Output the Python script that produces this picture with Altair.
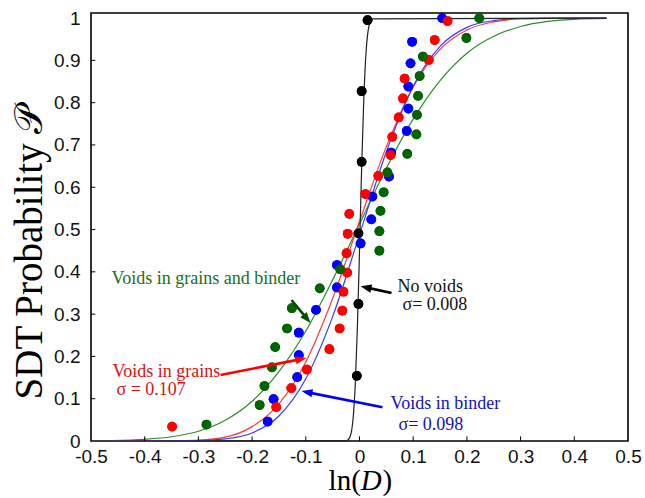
import math
import altair as alt
import pandas as pd

# ---------------- data ----------------
black_x = [-0.005, -0.002, -0.002, 0.004, 0.004, 0.015]
black_y = [0.154, 0.324, 0.491, 0.660, 0.827, 0.995]

blue_x = [-0.171, -0.160, -0.116, -0.113, -0.113, -0.081, -0.042, -0.042, 0.002, 0.022,
          0.024, 0.055, 0.059, 0.088, 0.091, 0.091, 0.095, 0.098, 0.154]
blue_y = [0.046, 0.099, 0.151, 0.203, 0.256, 0.310, 0.363, 0.416, 0.467, 0.524,
          0.578, 0.625, 0.682, 0.733, 0.786, 0.838, 0.893, 0.944, 1.000]

red_x = [-0.349, -0.155, -0.127, -0.098, -0.056, -0.037, -0.032, -0.030, -0.023, -0.024, -0.022,
         -0.019, 0.011, 0.035, 0.058, 0.061, 0.073, 0.081, 0.084, 0.129, 0.140, 0.164]
red_y = [0.034, 0.080, 0.125, 0.169, 0.217, 0.266, 0.308, 0.353, 0.398, 0.444, 0.490,
         0.537, 0.584, 0.627, 0.676, 0.719, 0.765, 0.810, 0.857, 0.901, 0.948, 0.993]

green_x = [-0.285, -0.186, -0.177, -0.163, -0.157, -0.135, -0.126, -0.074, -0.036, 0.037, 0.037,
           0.039, 0.045, 0.052, 0.089, 0.106, 0.107, 0.109, 0.112, 0.118, 0.199, 0.223]
green_y = [0.039, 0.085, 0.130, 0.174, 0.222, 0.266, 0.314, 0.361, 0.406, 0.450, 0.496,
           0.544, 0.588, 0.635, 0.679, 0.725, 0.771, 0.816, 0.863, 0.909, 0.953, 1.000]

# fitted curves, values
curve_x = [-0.46, -0.40, -0.35, -0.30, -0.25, -0.20, -0.15, -0.10, -0.05, 0.0,
           0.05, 0.10, 0.15, 0.20, 0.25, 0.30, 0.35, 0.40, 0.46]
green_curve = [0.001, 0.004, 0.010, 0.023, 0.049, 0.094, 0.164, 0.260, 0.381, 0.513,
               0.645, 0.761, 0.852, 0.917, 0.957, 0.980, 0.992, 0.997, 0.999]
red_curve = [0.0, 0.0001, 0.0006, 0.002, 0.009, 0.034, 0.088, 0.187, 0.337, 0.519,
             0.696, 0.837, 0.926, 0.972, 0.991, 0.998, 0.999, 1.0, 1.0]
blue_curve = [0.0, 0.0, 0.0002, 0.001, 0.005, 0.019, 0.059, 0.147, 0.294, 0.488,
              0.684, 0.839, 0.933, 0.978, 0.994, 0.999, 1.0, 1.0, 1.0]
black_curve_x = [-0.46, -0.024, -0.018, -0.012, -0.008, -0.004, 0.0, 0.004, 0.008, 0.012,
                 0.018, 0.024, 0.46]
black_curve = [0.0, 0.001, 0.009, 0.052, 0.130, 0.266, 0.450, 0.646, 0.809, 0.915,
               0.983, 0.998, 1.0]

# annotations (data coordinates)
ann_series = ["green", "red", "black", "blue"]
arrow_start_x = [-0.1266, -0.2588, 0.0596, 0.0428]
arrow_start_y = [0.333, 0.156, 0.350, 0.080]
arrow_tip_x = [-0.0912, -0.0987, 0.0019, -0.108]
arrow_tip_y = [0.279, 0.196, 0.366, 0.118]

label_text = ["Voids in grains and binder", "Voids in grains", "σ = 0.107",
              "No voids", "σ= 0.008", "Voids in binder", "σ= 0.098"]
label_series = ["green", "red", "red", "black", "black", "blue", "blue"]
label_x = [-0.4618, -0.460, -0.4525, 0.0708, 0.080, 0.0577, 0.0726]
label_y = [0.383, 0.164, 0.1206, 0.364, 0.3215, 0.0875, 0.0378]

x_ticks = [-0.5, -0.4, -0.3, -0.2, -0.1, 0.0, 0.1, 0.2, 0.3, 0.4, 0.5]
y_ticks = [0.0, 0.1, 0.2, 0.3, 0.4, 0.5, 0.6, 0.7, 0.8, 0.9, 1.0]

# ---------------- styles ----------------
POINT_COL = {"black": "#000000", "blue": "#0000ff", "red": "#ff0000", "green": "#006400"}
LINE_COL = {"black": "#222222", "blue": "#3a3aff", "red": "#ff3a3a", "green": "#2e8b2e"}
TEXT_COL = {"black": "#111111", "blue": "#1010c0", "red": "#e01010", "green": "#1a6e1a"}
ARROW_COL = {"black": "#000000", "blue": "#0000ff", "red": "#ff0000", "green": "#004d00"}

W, H = 537, 428
YMAX = 1.012
PX_X = W / 1.0
PX_Y = H / YMAX

# ---------------- tables ----------------
pts = pd.concat([
    pd.DataFrame({"x": black_x, "y": black_y, "s": "black"}),
    pd.DataFrame({"x": blue_x, "y": blue_y, "s": "blue"}),
    pd.DataFrame({"x": red_x, "y": red_y, "s": "red"}),
    pd.DataFrame({"x": green_x, "y": green_y, "s": "green"}),
], ignore_index=True)
pts["col"] = pts["s"].map(POINT_COL)

curves = pd.concat([
    pd.DataFrame({"x": curve_x, "y": green_curve, "s": "green"}),
    pd.DataFrame({"x": curve_x, "y": red_curve, "s": "red"}),
    pd.DataFrame({"x": curve_x, "y": blue_curve, "s": "blue"}),
    pd.DataFrame({"x": black_curve_x, "y": black_curve, "s": "black"}),
], ignore_index=True)
curves["col"] = curves["s"].map(LINE_COL)
curves["order"] = range(len(curves))

arrows = pd.DataFrame({"s": ann_series, "sx": arrow_start_x, "sy": arrow_start_y,
                       "x": arrow_tip_x, "y": arrow_tip_y})
HEAD = 11.0
angs, ex, ey = [], [], []
for _, r in arrows.iterrows():
    dx = (r.x - r.sx) * PX_X
    dy = -(r.y - r.sy) * PX_Y
    a = math.degrees(math.atan2(dx, -dy)) % 360
    angs.append(a)
    L = math.hypot(dx, dy)
    k = (L - HEAD * 0.6) / L
    ex.append(r.sx + (r.x - r.sx) * k)
    ey.append(r.sy + (r.y - r.sy) * k)
arrows["ang"] = angs
arrows["ex"] = ex
arrows["ey"] = ey
arrows["col"] = arrows["s"].map(ARROW_COL)

labels = pd.DataFrame({"x": label_x, "y": label_y, "t": label_text, "s": label_series})
labels["col"] = labels["s"].map(TEXT_COL)

xt = pd.DataFrame({"x": x_ticks[1:-1]})
yt = pd.DataFrame({"y": y_ticks[1:-1]})

# ---------------- encodings ----------------
lab_expr = "datum.value < 0 ? '-' + format(-datum.value, '.1~f') : format(datum.value, '.1~f')"
xs = alt.Scale(domain=[-0.5, 0.5], nice=False, zero=False)
ys = alt.Scale(domain=[0, YMAX], nice=False, zero=False)
X = alt.X("x:Q", scale=xs, axis=alt.Axis(
    values=x_ticks, labelExpr=lab_expr, title=None, grid=False, ticks=False, domain=False,
    labelFont="Liberation Sans", labelFontSize=19, labelColor="#111111", labelPadding=6,
    labelFlush=False, labelOverlap=False))
Y = alt.Y("y:Q", scale=ys, axis=alt.Axis(
    values=y_ticks, labelExpr=lab_expr, grid=False, ticks=False, domain=False,
    labelFont="Liberation Sans", labelFontSize=19, labelColor="#111111", labelPadding=11,
    labelFlush=False, labelOverlap=False,
    title="SDT Probability 𝒫", titleFont="Liberation Serif", titleFontSize=39,
    titleFontWeight="normal", titleColor="#000000", titleX=-62, titleY=239,
    titleAlign="center", titleBaseline="middle", titleAngle=270))

base_pts = alt.Chart(pts).mark_circle(size=95, opacity=1).encode(
    x=X, y=Y, color=alt.Color("col:N", scale=None))

lines = alt.Chart(curves).mark_line(strokeWidth=1.2, interpolate="monotone").encode(
    x="x:Q", y="y:Q", color=alt.Color("col:N", scale=None), detail="s:N", order="order:Q")

shafts = alt.Chart(arrows).mark_rule(strokeWidth=2.6).encode(
    x="sx:Q", y="sy:Q", x2="ex:Q", y2="ey:Q", color=alt.Color("col:N", scale=None))

heads = alt.Chart(arrows).mark_point(
    shape="M0,0L0.38,1L-0.38,1Z", filled=True, opacity=1, size=HEAD * HEAD * 4, strokeWidth=0
).encode(x="x:Q", y="y:Q", angle=alt.Angle("ang:Q", scale=None),
         color=alt.Color("col:N", scale=None))

texts = alt.Chart(labels).mark_text(
    align="left", baseline="middle", font="Liberation Serif", fontSize=18
).encode(x="x:Q", y="y:Q", text="t:N", color=alt.Color("col:N", scale=None))

xtick_marks = alt.Chart(xt).mark_rule(color="#000000", strokeWidth=1).encode(
    x="x:Q", y=alt.datum(0), y2=alt.datum(0.011))
ytick_marks = alt.Chart(yt).mark_rule(color="#000000", strokeWidth=1).encode(
    y="y:Q", x=alt.datum(-0.5), x2=alt.datum(-0.492))

# x-axis title "ln(D)" with italic D, centred under x = 0
FS = 29
TX, TY = 269.8, 477
t1 = alt.Chart(alt.Data(values=[{"t": "ln("}])).mark_text(
    align="right", baseline="alphabetic", font="Liberation Serif", fontSize=FS, color="#000000"
).encode(x=alt.value(TX), y=alt.value(TY), text="t:N")
t2 = alt.Chart(alt.Data(values=[{"t": "D"}])).mark_text(
    align="left", baseline="alphabetic", font="Liberation Serif", fontSize=FS,
    fontStyle="italic", color="#000000"
).encode(x=alt.value(TX), y=alt.value(TY), text="t:N")
t3 = alt.Chart(alt.Data(values=[{"t": ")"}])).mark_text(
    align="left", baseline="alphabetic", font="Liberation Serif", fontSize=FS, color="#000000"
).encode(x=alt.value(TX + FS * 0.75), y=alt.value(TY), text="t:N")

chart = alt.layer(
    base_pts, lines, base_pts, shafts, heads, texts, xtick_marks, ytick_marks, t1, t2, t3
).properties(
    width=W, height=H,
    autosize=alt.AutoSizeParams(type="none"),
    padding={"left": 91, "top": 13, "right": 17, "bottom": 57},
    background="#ffffff",
).configure_view(stroke="#000000", strokeWidth=1.6)

chart.save("out.html", embed_options={"renderer": "svg", "actions": False})
